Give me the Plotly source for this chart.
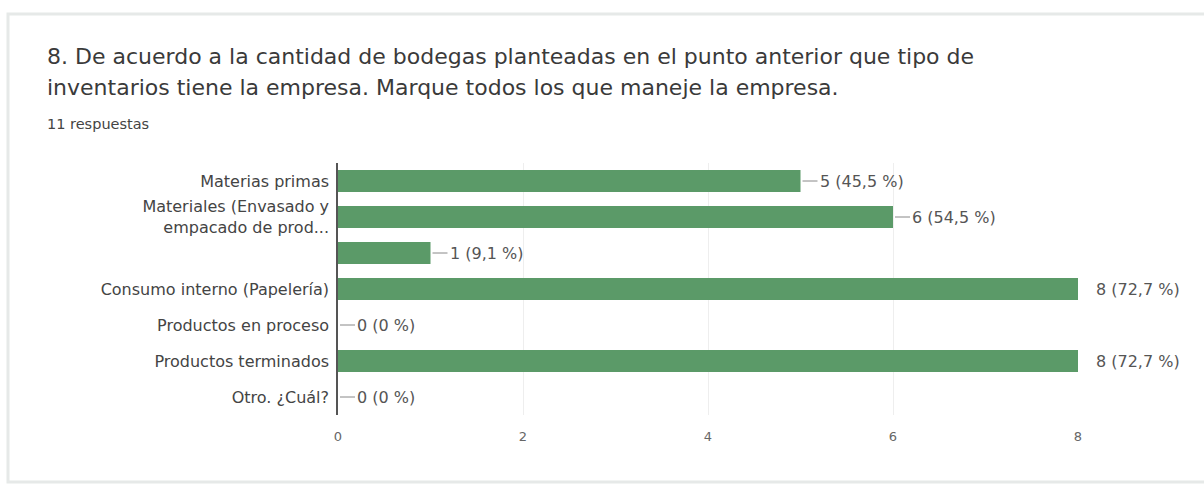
import plotly.graph_objects as go

# Survey answers for question 8 (11 responses)
categories = [
    "Materias primas",
    "Materiales (Envasado y<br>empacado de prod...",
    " ",
    "Consumo interno (Papelería)",
    "Productos en proceso",
    "Productos terminados",
    "Otro. ¿Cuál?",
]
counts = [5, 6, 1, 8, 0, 8, 0]
percent_labels = ["45,5 %", "54,5 %", "9,1 %", "72,7 %", "0 %", "72,7 %", "0 %"]
x_ticks = [0, 2, 4, 6, 8]

W, H = 1204, 487
L, R, T, B = 338, 126, 163, 72
X_MAX = 8

BAR_COLOR = "#5b9a68"
LABEL_FONT = "DejaVu Sans"
TITLE_FONT = "DejaVu Sans"


def px_x(p):
    return (p - L) / (W - L - R)


def px_y(p):
    return 1 - (p - T) / (H - T - B)


fig = go.Figure(
    go.Bar(
        x=counts,
        y=categories,
        orientation="h",
        marker=dict(color=BAR_COLOR, line=dict(width=0)),
        width=0.61,
        hoverinfo="skip",
    )
)

# value labels: a short leader line when the bar ends inside the plot
annotations = []
for cat, n, pct in zip(categories, counts, percent_labels):
    text = f"{n} ({pct})"
    if n < X_MAX:
        annotations.append(dict(
            x=n, y=cat, xref="x", yref="y", text=text,
            showarrow=True, arrowhead=0, arrowwidth=1, arrowcolor="#888888",
            ax=17, ay=0, xanchor="left", standoff=2,
            font=dict(family=LABEL_FONT, size=16, color="#555555"),
        ))
    else:
        annotations.append(dict(
            x=n, y=cat, xref="x", yref="y", text=text,
            showarrow=False, xanchor="left", xshift=16,
            font=dict(family=LABEL_FONT, size=16, color="#555555"),
        ))

# question title and response count
annotations += [
    dict(x=px_x(45), y=px_y(57), xref="paper", yref="paper", showarrow=False,
         xanchor="left", yanchor="middle",
         text="8. De acuerdo a la cantidad de bodegas planteadas en el punto anterior que tipo de",
         font=dict(family=TITLE_FONT, size=22, color="#3a3a3a")),
    dict(x=px_x(45), y=px_y(88), xref="paper", yref="paper", showarrow=False,
         xanchor="left", yanchor="middle",
         text="inventarios tiene la empresa. Marque todos los que maneje la empresa.",
         font=dict(family=TITLE_FONT, size=22, color="#3a3a3a")),
    dict(x=px_x(45), y=px_y(124), xref="paper", yref="paper", showarrow=False,
         xanchor="left", yanchor="middle", text="11 respuestas",
         font=dict(family=TITLE_FONT, size=14.5, color="#444444")),
]

# card outline
shapes = [
    dict(type="rect", xref="paper", yref="paper",
         x0=px_x(8), x1=px_x(1210), y0=px_y(482), y1=px_y(14),
         line=dict(color="#e6e9e8", width=3), fillcolor="rgba(0,0,0,0)", layer="below"),
]

fig.update_layout(
    width=W, height=H,
    margin=dict(l=L, r=R, t=T, b=B, pad=0),
    paper_bgcolor="white", plot_bgcolor="white",
    showlegend=False,
    bargap=0.39,
    annotations=annotations,
    shapes=shapes,
    xaxis=dict(
        range=[0, X_MAX], tickvals=x_ticks, ticktext=[str(v) for v in x_ticks],
        showgrid=True, gridcolor="#eeeeee", gridwidth=1,
        zeroline=False, showline=False, ticks="",
        tickfont=dict(family=LABEL_FONT, size=13, color="#666666"),
        ticklabelstandoff=12,
    ),
    yaxis=dict(
        autorange="reversed", categoryorder="array", categoryarray=categories,
        showgrid=False, zeroline=False,
        showline=True, linecolor="#555555", linewidth=1.5,
        ticks="", ticklabelstandoff=4,
        tickfont=dict(family=LABEL_FONT, size=16, color="#444444"),
    ),
)

fig.write_html("out.html")
